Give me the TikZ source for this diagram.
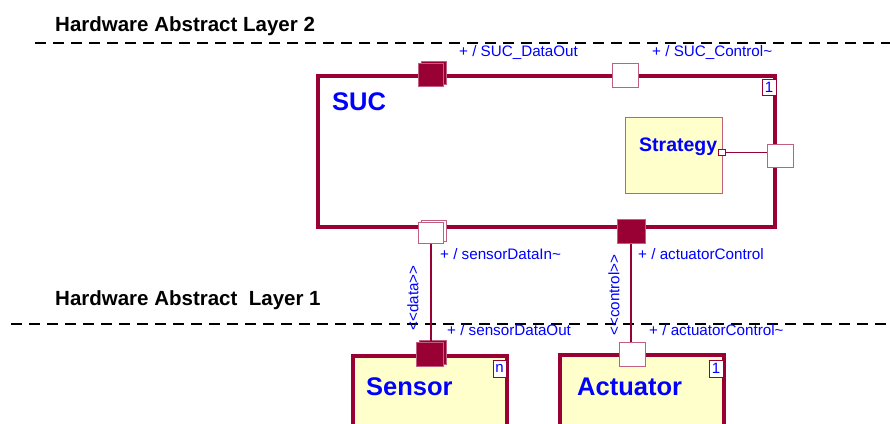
\documentclass[tikz,border=0pt]{standalone}
\usepackage{fontspec}
\setmainfont{Liberation Sans}
\usetikzlibrary{shadows}
\definecolor{suc}{HTML}{990033}
\definecolor{rim}{HTML}{C0607E}
\definecolor{part}{HTML}{FFFFCC}
\definecolor{name}{HTML}{0000FF}

\begin{document}
\begin{tikzpicture}[x=1pt,y=-1pt,
  layer/.style={font=\fontsize{20.5}{24}\selectfont\bfseries,anchor=base west,inner sep=0},
  border/.style={line width=2.5pt,dash pattern=on 11pt off 7pt},
  comp/.style={draw=suc,line width=3.5pt,inner sep=0},
  port/.style={draw=rim,line width=1pt,inner sep=0,minimum width=25,minimum height=23},
  full/.style={fill=suc},
  empty/.style={fill=white},
  shad/.style={copy shadow={shadow xshift=3pt,shadow yshift=2pt,fill=#1,draw=rim,line width=1pt}},
  conn/.style={draw=suc,line width=1.5pt},
  lbl/.style={text=name,font=\fontsize{15.2}{18}\selectfont,anchor=base west,inner sep=0},
  title/.style={text=name,font=\fontsize{25.5}{30}\selectfont\bfseries,anchor=base west,inner sep=0},
  mult/.style={draw=suc,line width=0.8pt,fill=white,text=name,font=\fontsize{15}{15}\selectfont,inner sep=0,minimum width=14,minimum height=16}]
  \useasboundingbox (0,0) rectangle (890,423);
  \clip (0,0) rectangle (890,423);

  % layers
  \node[layer] (hal2) at (55,31) {Hardware Abstract Layer 2};
  \node[layer] (hal1) at (55,305) {Hardware Abstract\ \ Layer 1};
  \draw[border] (35,43) -- (890,43);
  \draw[border] (11,324) -- (890,324);

  % SUC part
  \node[comp,minimum width=457,minimum height=151] (suc) at (546.5,151.5) {};
  \node[title] (sucname) at (332,110) {SUC};
  \node[mult] (sucmult) at (769,87.5) {1};

  \node[draw=rim,line width=1pt,fill=part,minimum width=97,minimum height=76] (strategy) at (673.5,155) {};
  \node[title,font=\fontsize{19.5}{22}\selectfont\bfseries] (stratname) at (639,151) {Strategy};
  \node[draw=suc,line width=0.8pt,fill=white,inner sep=0,minimum width=7,minimum height=6] (stratport) at (721.5,152) {};

  % ports of SUC
  \node[port,full,shad=suc] (dataout) at (431,75) {};
  \node[port,empty,minimum width=26,minimum height=24] (control) at (625,75) {};
  \node[port,empty,minimum width=26] (right) at (780,155.5) {};
  \node[port,empty,shad=white,minimum height=21] (datain) at (431,232.5) {};
  \node[port,full,minimum width=28,minimum height=24] (actctrl) at (631,231) {};
  \draw[draw=suc,line width=1pt] (stratport.east) -- (right.west |- stratport.east);

  \node[lbl] (ldataout) at (459,56) {+ / SUC\_DataOut};
  \node[lbl] (lcontrol) at (652,56) {+ / SUC\_Control\char`\~};
  \node[lbl] (ldatain) at (440,259) {+ / sensorDataIn\char`\~};
  \node[lbl] (lactctrl) at (638,259) {+ / actuatorControl};

  % Sensor and Actuator
  \node[comp,fill=part,minimum width=154,minimum height=114] (sensor) at (430,413) {};
  \node[comp,fill=part,minimum width=164,minimum height=114] (actuator) at (642,412) {};
  \node[title] (sensorname) at (366,395) {Sensor};
  \node[title] (actname) at (577,395) {Actuator};
  \node[mult,minimum width=13,minimum height=17] (sensormult) at (499.5,368.5) {n};
  \node[mult,minimum height=17] (actmult) at (716,368.5) {1};

  \node[port,full,shad=suc,minimum width=27,minimum height=24] (sensorport) at (430,354) {};
  \node[port,empty,minimum width=26,minimum height=24] (actport) at (632,354) {};

  \draw[conn] (datain.south) -- (datain.south |- sensorport.north);
  \draw[conn] (actctrl.south) -- (actctrl.south |- actport.north);

  \node[lbl] (lsensorout) at (447,335) {+ / sensorDataOut};
  \node[lbl] (lactin) at (649,335) {+ / actuatorControl\char`\~};
  \node[lbl,anchor=center,rotate=90] (ldata) at (413,298) {<{}<data>{}>};
  \node[lbl,anchor=center,rotate=90] (lctrl) at (614,295) {<{}<control>{}>};
\end{tikzpicture}
\end{document}
